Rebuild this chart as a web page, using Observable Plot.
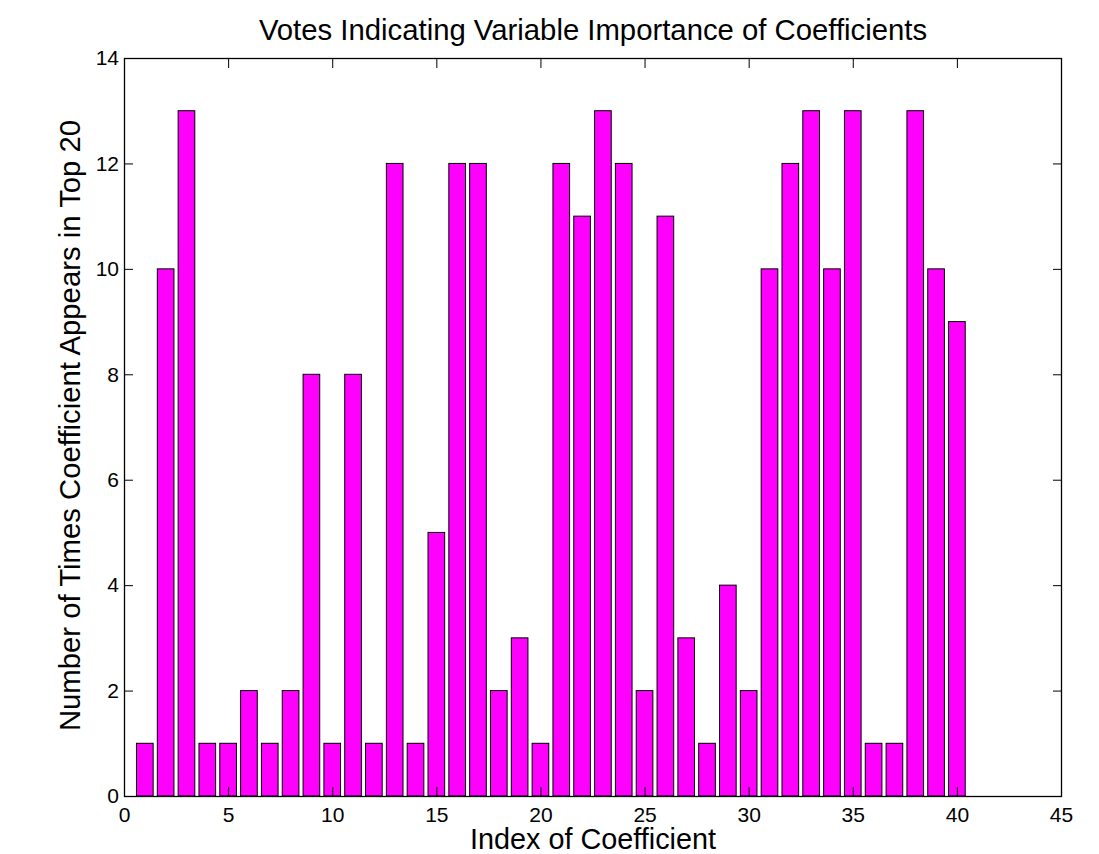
<!DOCTYPE html>
<html>
<head>
<meta charset="utf-8">
<script src="https://cdn.jsdelivr.net/npm/d3@7"></script>
<script src="https://cdn.jsdelivr.net/npm/@observablehq/plot@0.6"></script>
<style>
  html, body { margin: 0; padding: 0; background: #fff; }
  #chart svg { display: block; }
</style>
</head>
<body>
<div id="chart"></div>
<script>
const titleText = "Votes Indicating Variable Importance of Coefficients";
const xLabelText = "Index of Coefficient";
const yLabelText = "Number of Times Coefficient Appears in Top 20";

const coefficientIndex = [1,2,3,4,5,6,7,8,9,10,11,12,13,14,15,16,17,18,19,20,21,22,23,24,25,26,27,28,29,30,31,32,33,34,35,36,37,38,39,40];
const votes = [1,10,13,1,1,2,1,2,8,1,8,1,12,1,5,12,12,2,3,1,12,11,13,12,2,11,3,1,4,2,10,12,13,10,13,1,1,13,10,9];

const xTicks = [0,5,10,15,20,25,30,35,40,45];
const yTicks = [0,2,4,6,8,10,12,14];

const data = coefficientIndex.map((i, k) => ({i, v: votes[k]}));

const barHalf = 0.4;
const tick = 9;
const font = "'Liberation Sans', Arial, Helvetica, sans-serif";
const fmt = d => String(d);

const chart = Plot.plot({
  width: 1099,
  height: 854,
  marginLeft: 124,
  marginRight: 38,
  marginTop: 58,
  marginBottom: 58,
  style: {fontFamily: font, background: "#fff", color: "#000"},
  x: {type: "linear", domain: [0, 45]},
  y: {type: "linear", domain: [0, 14]},
  marks: [
    Plot.rectY(data, {x1: d => d.i - barHalf, x2: d => d.i + barHalf, y1: 0, y2: "v", fill: "#ff00ff", stroke: "#000", strokeWidth: 1}),
    // inward ticks on all four sides
    Plot.axisX(xTicks, {anchor: "bottom", tickSize: tick, dy: -tick, fill: "none", label: null, stroke: "#000"}),
    Plot.axisX(xTicks, {anchor: "top", tickSize: tick, dy: tick, fill: "none", label: null, stroke: "#000"}),
    Plot.axisY(yTicks, {anchor: "left", tickSize: tick, dx: tick, fill: "none", label: null, stroke: "#000"}),
    Plot.axisY(yTicks, {anchor: "right", tickSize: tick, dx: -tick, fill: "none", label: null, stroke: "#000"}),
    // tick labels
    Plot.axisX(xTicks, {anchor: "bottom", tickSize: 0, tickPadding: 10.5, fontSize: 21, label: null, fill: "#000", tickFormat: fmt}),
    Plot.axisY(yTicks, {anchor: "left", tickSize: 0, tickPadding: 5.5, fontSize: 21, label: null, fill: "#000", tickFormat: fmt}),
    Plot.frame({stroke: "#000", strokeWidth: 1.3}),
    // title and axis labels
    Plot.text([titleText], {frameAnchor: "top", lineAnchor: "middle", dy: -27.5, fontSize: 29.3, fill: "#000", text: d => d}),
    Plot.text([xLabelText], {frameAnchor: "bottom", lineAnchor: "middle", dy: 43.5, fontSize: 28.8, fill: "#000", text: d => d}),
    Plot.text([yLabelText], {frameAnchor: "left", lineAnchor: "middle", textAnchor: "middle", dx: -54.3, dy: -2, rotate: -90, fontSize: 29.3, fill: "#000", text: d => d})
  ]
});
document.getElementById("chart").append(chart);
</script>
</body>
</html>
